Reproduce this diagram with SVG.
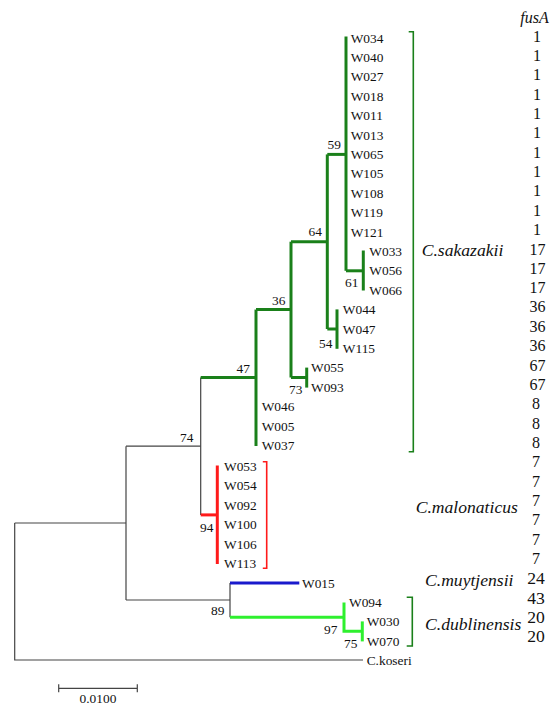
<svg xmlns="http://www.w3.org/2000/svg" width="558" height="706" viewBox="0 0 558 706">
<style>
.bg{fill:#ffffff}
.lf{font-family:"Liberation Serif","Times New Roman",serif;font-size:13.4px;fill:#111}
.bs{font-family:"Liberation Serif","Times New Roman",serif;font-size:13.4px;fill:#111;text-anchor:end}
.sp{font-family:"Liberation Serif","Times New Roman",serif;font-size:17.6px;font-style:italic;fill:#111}
.nm{font-family:"Liberation Serif","Times New Roman",serif;font-size:16px;fill:#111;text-anchor:middle}
.nm2{font-family:"Liberation Serif","Times New Roman",serif;font-size:17.6px;fill:#111;text-anchor:middle}
.bk{stroke:#444;stroke-width:1.2;fill:none}
.dg{stroke:#1a801a;stroke-width:3;fill:none}
.rd{stroke:#ff1a1a;stroke-width:3;fill:none}
.bl{stroke:#1a1acc;stroke-width:3;fill:none}
.lg{stroke:#2ef02e;stroke-width:3;fill:none}
.brg{stroke:#1a801a;stroke-width:1.6;fill:none}
.brr{stroke:#ff1a1a;stroke-width:1.6;fill:none}
</style>
<rect class="bg" x="0" y="0" width="558" height="706"/>

<g id="connectors">
  <!-- black backbone -->
  <path class="bk" d="M14.7,523 V660 H363"/>
  <path class="bk" d="M14.7,523 H126"/>
  <path class="bk" d="M126,446.2 V600"/>
  <path class="bk" d="M126,446.2 H200.7"/>
  <path class="bk" d="M200.7,377.5 V514.9"/>
  <path class="bk" d="M126,600 H230"/>
  <path class="bk" d="M230,583 V617.3"/>
  <!-- C. sakazakii clade -->
  <path class="dg" d="M200.7,377.5 H256"/>
  <path class="dg" d="M256,309.6 V446"/>
  <path class="dg" d="M256,309.6 H291"/>
  <path class="dg" d="M291,241.7 V377.5"/>
  <path class="dg" d="M291,241.7 H327.3"/>
  <path class="dg" d="M327.3,154.4 V329"/>
  <path class="dg" d="M327.3,154.4 H346"/>
  <path class="dg" d="M346,36.5 V270.8"/>
  <path class="dg" d="M346,270.8 H363.3"/>
  <path class="dg" d="M363.3,250.5 V290.5"/>
  <path class="dg" d="M327.3,329 H337"/>
  <path class="dg" d="M337,309.4 V348.8"/>
  <path class="dg" d="M291,377.5 H306.7"/>
  <path class="dg" d="M306.7,367.6 V387.6"/>
  <!-- C. malonaticus -->
  <path class="rd" d="M200.7,514.9 H217.3"/>
  <path class="rd" d="M217.3,465.5 V564"/>
  <!-- C. muytjensii -->
  <path class="bl" d="M230,583 H299.3"/>
  <!-- C. dublinensis -->
  <path class="lg" d="M230,617.3 H344"/>
  <path class="lg" d="M344,602.4 V631.3 H362.3"/>
  <path class="lg" d="M362.3,621.4 V641.4"/>
  <!-- brackets -->
  <path class="brg" d="M408.7,31.7 H413.3 V451.7 H408.7"/>
  <path class="brr" d="M262.8,461.7 H266.7 V568.3 H262.8"/>
  <path class="brg" d="M406.7,597.3 H412.3 V646 H406.7"/>
  <!-- scale bar -->
  <path class="bk" d="M58.7,688.3 H137.3 M58.7,684.3 V692.3 M137.3,684.3 V692.3" stroke-width="1.5"/>
</g>

<g id="bootstrap">
  <text class="bs" x="341" y="148.5">59</text>
  <text class="bs" x="322" y="236">64</text>
  <text class="bs" x="285.5" y="304.5">36</text>
  <text class="bs" x="250" y="373">47</text>
  <text class="bs" x="193.5" y="441.5">74</text>
  <text class="bs" x="358.5" y="287">61</text>
  <text class="bs" x="332.5" y="348">54</text>
  <text class="bs" x="302.5" y="394">73</text>
  <text class="bs" x="213.5" y="532">94</text>
  <text class="bs" x="224.5" y="615">89</text>
  <text class="bs" x="337.5" y="633.5">97</text>
  <text class="bs" x="357.5" y="647.5">75</text>
</g>

<g id="leaves-sakazakii">
  <text class="lf" x="350.7" y="42.5">W034</text>
  <text class="lf" x="350.7" y="61.9">W040</text>
  <text class="lf" x="350.7" y="81.3">W027</text>
  <text class="lf" x="350.7" y="100.7">W018</text>
  <text class="lf" x="350.7" y="120.1">W011</text>
  <text class="lf" x="350.7" y="139.5">W013</text>
  <text class="lf" x="350.7" y="158.9">W065</text>
  <text class="lf" x="350.7" y="178.3">W105</text>
  <text class="lf" x="350.7" y="197.7">W108</text>
  <text class="lf" x="350.7" y="217.1">W119</text>
  <text class="lf" x="350.7" y="236.5">W121</text>
  <text class="lf" x="369.3" y="255.9">W033</text>
  <text class="lf" x="369.3" y="275.3">W056</text>
  <text class="lf" x="369.3" y="294.7">W066</text>
  <text class="lf" x="342.8" y="314.1">W044</text>
  <text class="lf" x="342.8" y="333.5">W047</text>
  <text class="lf" x="342.8" y="352.9">W115</text>
  <text class="lf" x="311" y="372.3">W055</text>
  <text class="lf" x="311" y="391.7">W093</text>
  <text class="lf" x="261.7" y="411.1">W046</text>
  <text class="lf" x="261.7" y="430.5">W005</text>
  <text class="lf" x="261.7" y="449.9">W037</text>
</g>

<g id="leaves-malonaticus">
  <text class="lf" x="224" y="471">W053</text>
  <text class="lf" x="224" y="490.4">W054</text>
  <text class="lf" x="224" y="509.8">W092</text>
  <text class="lf" x="224" y="529.1">W100</text>
  <text class="lf" x="224" y="548.5">W106</text>
  <text class="lf" x="224" y="567.9">W113</text>
</g>

<g id="leaves-other">
  <text class="lf" x="302" y="587.5">W015</text>
  <text class="lf" x="349" y="607.2">W094</text>
  <text class="lf" x="366.7" y="626.2">W030</text>
  <text class="lf" x="366.7" y="645.5">W070</text>
  <text class="lf" x="366.7" y="664.5">C.koseri</text>
</g>

<g id="species">
  <text class="sp" x="421.7" y="256">C.sakazakii</text>
  <text class="sp" x="415.7" y="512.5">C.malonaticus</text>
  <text class="sp" x="425" y="586">C.muytjensii</text>
  <text class="sp" x="425" y="629.5">C.dublinensis</text>
</g>

<g id="fusA">
  <text class="nm" x="534.5" y="22.5" font-style="italic" font-size="18">fusA</text>
  <text class="nm" x="537" y="41.5">1</text>
  <text class="nm" x="537" y="60.8">1</text>
  <text class="nm" x="537" y="80.2">1</text>
  <text class="nm" x="537" y="99.5">1</text>
  <text class="nm" x="537" y="118.9">1</text>
  <text class="nm" x="537" y="138.2">1</text>
  <text class="nm" x="537" y="157.6">1</text>
  <text class="nm" x="537" y="176.9">1</text>
  <text class="nm" x="537" y="196.3">1</text>
  <text class="nm" x="537" y="215.6">1</text>
  <text class="nm" x="537" y="235">1</text>
  <text class="nm" x="537.5" y="254.5">17</text>
  <text class="nm" x="537.5" y="273.8">17</text>
  <text class="nm" x="537.5" y="293.1">17</text>
  <text class="nm" x="537.5" y="312.4">36</text>
  <text class="nm" x="537.5" y="331.8">36</text>
  <text class="nm" x="537.5" y="351.1">36</text>
  <text class="nm" x="537.5" y="370.5">67</text>
  <text class="nm" x="537.5" y="389.8">67</text>
  <text class="nm" x="536" y="409.2">8</text>
  <text class="nm" x="536" y="428.5">8</text>
  <text class="nm" x="536" y="447.9">8</text>
  <text class="nm" x="536" y="467.2">7</text>
  <text class="nm" x="536" y="486.5">7</text>
  <text class="nm" x="536" y="506">7</text>
  <text class="nm" x="536" y="525.3">7</text>
  <text class="nm" x="536" y="544.6">7</text>
  <text class="nm" x="536" y="564">7</text>
  <text class="nm2" x="536" y="584">24</text>
  <text class="nm2" x="536" y="603.5">43</text>
  <text class="nm2" x="536" y="623">20</text>
  <text class="nm2" x="536" y="642">20</text>
</g>

<g id="scale">
  <text class="lf" x="98" y="702.5" text-anchor="middle" font-size="13">0.0100</text>
</g>
</svg>
